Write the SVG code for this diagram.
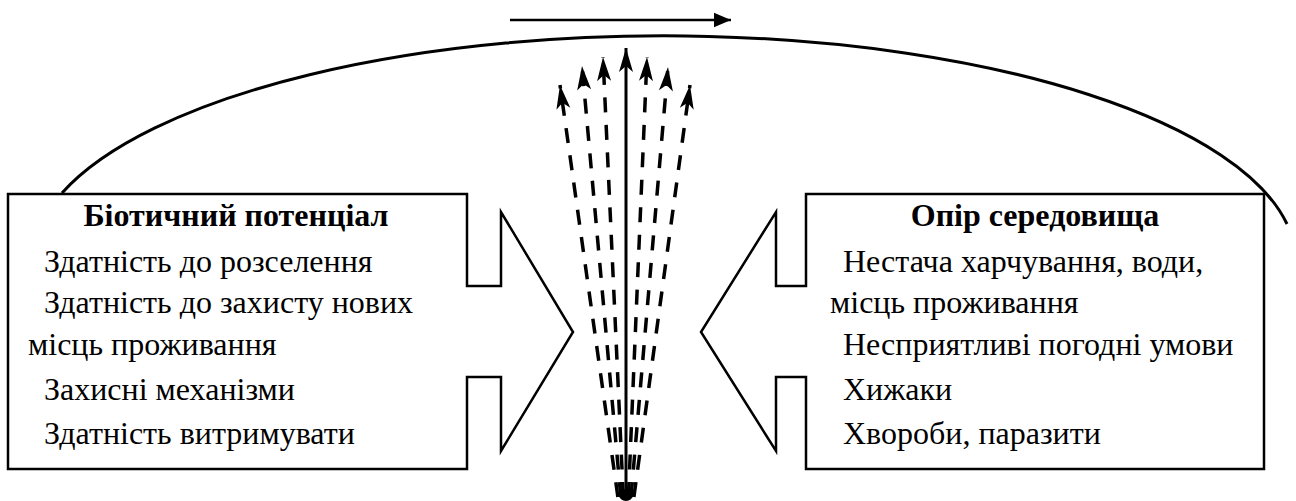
<svg xmlns="http://www.w3.org/2000/svg" width="1296" height="501" viewBox="0 0 1296 501">
<style>
.box{fill:none;stroke:#000;stroke-width:2.5;stroke-linejoin:miter}
.dash{fill:none;stroke:#000;stroke-width:3.5;stroke-dasharray:15 12.5}
.solid{fill:none;stroke:#000;stroke-width:3}
</style>
<defs>
<marker id="ah" viewBox="-25 -8 26 16" markerWidth="26" markerHeight="16" refX="0" refY="0" orient="auto" markerUnits="userSpaceOnUse">
<path d="M0,0 L-24,-7 L-18,0 L-24,7 Z" fill="#000"/>
</marker>
<marker id="ah2" viewBox="-18 -8 19 16" markerWidth="19" markerHeight="16" refX="0" refY="0" orient="auto" markerUnits="userSpaceOnUse">
<path d="M0,0 L-17,-7.3 L-17,7.3 Z" fill="#000"/>
</marker>
</defs>
<rect width="1296" height="501" fill="#fff"/>
<g id="arc">
<path d="M62,193 A632,226 0 0 1 1287,224" fill="none" stroke="#000" stroke-width="3"/>
</g>
<g id="topArrow">
<line x1="510" y1="20" x2="731" y2="20" stroke="#000" stroke-width="2.5" marker-end="url(#ah2)"/>
</g>
<g id="biotic">
<path class="box" d="M8,194 H467 V286 H501 V212 L573,332 L501,451 V377 H467 V469 H8 Z"/>
<text font-family="Liberation Serif" font-size="32" font-weight="bold" x="236" y="226" text-anchor="middle">Біотичний потенціал</text>
<text font-family="Liberation Serif" font-size="32" x="44" y="272">Здатність до розселення</text>
<text font-family="Liberation Serif" font-size="32" x="44" y="313">Здатність до захисту нових</text>
<text font-family="Liberation Serif" font-size="32" x="28" y="355">місць проживання</text>
<text font-family="Liberation Serif" font-size="32" x="44" y="400">Захисні механізми</text>
<text font-family="Liberation Serif" font-size="32" x="44" y="444">Здатність витримувати</text>
</g>
<g id="resistance">
<path class="box" d="M1264,194 H806 V286 H776 V212 L701,332 L776,451 V377 H806 V469 H1264 Z"/>
<text font-family="Liberation Serif" font-size="32" font-weight="bold" x="1035" y="226" text-anchor="middle">Опір середовища</text>
<text font-family="Liberation Serif" font-size="32" x="843" y="272">Нестача харчування, води,</text>
<text font-family="Liberation Serif" font-size="32" x="830" y="313">місць проживання</text>
<text font-family="Liberation Serif" font-size="32" x="843" y="355">Несприятливі погодні умови</text>
<text font-family="Liberation Serif" font-size="32" x="843" y="400">Хижаки</text>
<text font-family="Liberation Serif" font-size="32" x="843" y="444">Хвороби, паразити</text>
</g>
<g id="connectors">
<path class="dash" d="M617.9,497 L560,85" marker-end="url(#ah)"/>
<path class="dash" d="M620.8,497 L582,66" marker-end="url(#ah)"/>
<path class="dash" d="M623.3,497 L603,57" marker-end="url(#ah)"/>
<path class="solid" d="M626,499 L626,48" marker-end="url(#ah)"/>
<path class="dash" d="M628.4,497 L647,57" marker-end="url(#ah)"/>
<path class="dash" d="M631,497 L668,67" marker-end="url(#ah)"/>
<path class="dash" d="M633.9,497 L690,85" marker-end="url(#ah)"/>
<ellipse cx="626" cy="495" rx="7" ry="6" fill="#000"/>
</g>
</svg>
